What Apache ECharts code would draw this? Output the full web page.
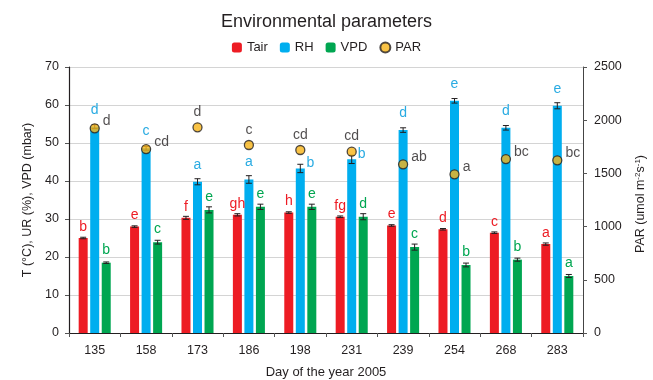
<!DOCTYPE html>
<html>
<head>
<meta charset="utf-8">
<script src="https://cdn.jsdelivr.net/npm/echarts@6/dist/echarts.min.js"></script>
<style>
html,body{margin:0;padding:0;background:#fff;}
#chart{width:653px;height:380px;}
</style>
</head>
<body>
<div id="chart"></div>
<script>
const categories = ['135','158','173','186','198','231','239','254','268','283'];
const tair    = [25.0, 28.0, 30.3, 31.1, 31.7, 30.6, 28.3, 27.3, 26.4, 23.4];
const tairErr = [0.2, 0.2, 0.4, 0.3, 0.2, 0.2, 0.2, 0.2, 0.2, 0.3];
const rh      = [54.3, 48.6, 39.8, 40.4, 43.3, 45.7, 53.4, 61.1, 54.0, 59.8];
const rhErr   = [0.5, 0.5, 0.8, 1.0, 1.1, 1.1, 0.6, 0.6, 0.6, 0.8];
const vpd     = [18.5, 23.9, 32.4, 33.2, 33.2, 30.6, 22.6, 17.9, 19.3, 15.0];
const vpdErr  = [0.2, 0.5, 0.8, 0.7, 0.7, 0.8, 0.8, 0.5, 0.4, 0.4];
const par     = [1924, 1729, 1933, 1767, 1720, 1704, 1585, 1491, 1635, 1623];
const tairLetters = ['b','e','f','gh','h','fg','e','d','c','a'];
const rhLetters   = ['d','c','a','a','b','b','d','e','d','e'];
const vpdLetters  = ['b','c','e','e','e','d','c','b','b','a'];
const parLetters  = ['d','cd','d','c','cd','cd','ab','a','bc','bc'];
const leftTicks  = [0, 70, 10];
const rightTicks = [0, 2500, 500];

const RED = '#ED1C24', BLUE = '#00AEEF', GREEN = '#00A651', DOT = '#F8B418', INK = '#231F20';
const FONT = 'Liberation Sans, Arial, sans-serif';
const BAR_W = 9, GAP = 0.28, STEP = BAR_W * (1 + GAP);

function errSeries(vals, errs, off) {
  return {
    type: 'custom', xAxisIndex: 0, yAxisIndex: 0, z: 5, silent: true,
    data: vals.map((v, i) => [i, v, errs[i]]),
    encode: { x: 0, y: 1 },
    renderItem: function (params, api) {
      const i = api.value(0), v = api.value(1), e = api.value(2);
      const t = api.coord([i, v + e]), b = api.coord([i, v - e]);
      const x = t[0] + off;
      const st = { stroke: INK, lineWidth: 1 };
      return { type: 'group', children: [
        { type: 'line', shape: { x1: x, y1: t[1], x2: x, y2: b[1] }, style: st },
        { type: 'line', shape: { x1: x - 3, y1: t[1], x2: x + 3, y2: t[1] }, style: st },
        { type: 'line', shape: { x1: x - 3, y1: b[1], x2: x + 3, y2: b[1] }, style: st }
      ]};
    }
  };
}

const rhRightSide = new Set([4, 5]);
const parTopSide = new Set([2, 3, 4, 5]);

const option = {
  animation: false,
  textStyle: { fontFamily: FONT },
  title: {
    text: 'Environmental parameters', left: 'center', top: 8,
    textStyle: { fontFamily: FONT, fontSize: 18, fontWeight: 'normal', color: INK }
  },
  legend: {
    data: ['Tair', 'RH', 'VPD', 'PAR'], left: 'center', top: 36,
    itemWidth: 10, itemHeight: 10, itemGap: 12,
    textStyle: { fontFamily: FONT, fontSize: 13, color: INK }
  },
  grid: { left: 69, right: 70, top: 67, bottom: 47, containLabel: false, outerBoundsMode: 'none' },
  xAxis: {
    type: 'category', data: categories,
    name: 'Day of the year 2005', nameLocation: 'middle', nameGap: 33,
    nameTextStyle: { fontFamily: FONT, fontSize: 13, color: INK },
    axisLine: { lineStyle: { color: INK, width: 1 } },
    axisTick: { show: true, length: 4, lineStyle: { color: '#555' } },
    axisLabel: { fontFamily: FONT, fontSize: 12.5, color: INK, margin: 11 }
  },
  yAxis: [{
    type: 'value', min: leftTicks[0], max: leftTicks[1], interval: leftTicks[2],
    name: 'T (°C), UR (%), VPD (mbar)', nameLocation: 'middle', nameGap: 34,
    nameTextStyle: { fontFamily: FONT, fontSize: 12.5, color: INK },
    axisLine: { show: true, lineStyle: { color: INK, width: 1.2 } },
    axisTick: { show: true, length: 4, lineStyle: { color: '#555' } },
    axisLabel: { fontFamily: FONT, fontSize: 12.5, color: INK, margin: 10 },
    splitLine: { show: true, lineStyle: { color: '#D4D4D4', width: 1 } }
  }, {
    type: 'value', min: rightTicks[0], max: rightTicks[1], interval: rightTicks[2],
    position: 'right',
    axisLine: { show: true, lineStyle: { color: '#444', width: 1 } },
    axisTick: { show: true, length: 4, lineStyle: { color: '#555' } },
    axisLabel: { fontFamily: FONT, fontSize: 12.5, color: INK, margin: 11,
      formatter: v => String(v) },
    splitLine: { show: false }
  }],
  graphic: [{
    type: 'text', left: 634, top: 155, rotation: Math.PI / 2,
    style: {
      text: 'PAR (umol m{sup|-2}s{sup|-1})',
      font: '12.5px ' + FONT, fill: INK, textAlign: 'center', textVerticalAlign: 'middle',
      rich: { sup: { fontSize: 8, fontFamily: FONT, fill: INK, padding: [0, 0, 6, 0] } }
    }
  }],
  series: [
    {
      name: 'Tair', type: 'bar', data: tair, barWidth: BAR_W, barGap: (GAP * 100) + '%',
      itemStyle: { color: RED },
      label: { show: true, position: 'top', distance: 4, color: RED, fontSize: 14, fontFamily: FONT,
        formatter: p => tairLetters[p.dataIndex] }
    },
    {
      name: 'RH', type: 'bar', barWidth: BAR_W, barGap: (GAP * 100) + '%',
      itemStyle: { color: BLUE },
      data: rh.map((v, i) => rhRightSide.has(i)
        ? { value: v, label: { position: 'top', distance: 5, offset: [10, 7] } }
        : { value: v }),
      label: { show: true, position: 'top', distance: 10, color: '#29ABE2', fontSize: 14, fontFamily: FONT,
        formatter: p => rhLetters[p.dataIndex] }
    },
    {
      name: 'VPD', type: 'bar', data: vpd, barWidth: BAR_W, barGap: (GAP * 100) + '%',
      itemStyle: { color: GREEN },
      label: { show: true, position: 'top', distance: 6, color: GREEN, fontSize: 14, fontFamily: FONT,
        formatter: p => vpdLetters[p.dataIndex] }
    },
    errSeries(tair, tairErr, -STEP),
    errSeries(rh, rhErr, 0),
    errSeries(vpd, vpdErr, STEP),
    {
      name: 'PAR', type: 'scatter', yAxisIndex: 1, z: 10,
      symbol: 'circle', symbolSize: 9,
      itemStyle: { color: DOT, borderColor: INK, borderWidth: 1.3 },
      data: par.map((v, i) => parTopSide.has(i)
        ? { value: v, label: { position: 'top', distance: 3 } }
        : { value: v, label: { position: 'right', distance: 3, offset: [0, -7] } }),
      label: { show: true, color: INK, fontSize: 14, fontFamily: FONT,
        formatter: p => parLetters[p.dataIndex] }
    }
  ]
};

const chart = echarts.init(document.getElementById('chart'), null, { renderer: 'canvas' });
chart.setOption(option);
</script>
</body>
</html>
